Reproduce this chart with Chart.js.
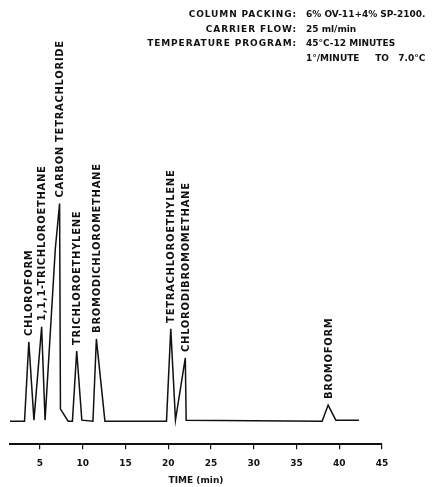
<!DOCTYPE html>
<html><head><meta charset="utf-8">
<script src="https://cdn.jsdelivr.net/npm/chart.js@4/dist/chart.umd.min.js"></script>
<style>
html,body{margin:0;padding:0;background:#fff;}
#wrap{position:relative;width:437px;height:487px;overflow:hidden;}
canvas{position:absolute;left:0;top:0;}
.hdr{position:absolute;font-family:"DejaVu Sans",sans-serif;font-weight:bold;font-size:9px;color:#111;white-space:pre;line-height:14.7px;}
</style></head><body>
<div id="wrap">
<canvas id="c" width="437" height="487"></canvas>
<div class="hdr" style="right:140px;top:7px;text-align:right;letter-spacing:0.9px">COLUMN PACKING:
CARRIER FLOW:
TEMPERATURE PROGRAM:</div>
<div class="hdr" style="left:306px;top:7px;letter-spacing:0px">6% OV-11+4% SP-2100.
25 ml/min
45°C-12 MINUTES
1°/MINUTE     TO   7.0°C</div>
</div>
<script>
// Chromatogram trace (retention time in minutes, detector response in arbitrary units)
const times  = [1.5, 3.2, 3.7, 4.3, 5.2, 5.6, 6.8, 7.3, 7.4, 8.3, 8.8, 9.3, 9.9, 11.2, 11.6, 12.6, 19.8, 20.3, 20.85, 22.0, 22.1, 38.0, 38.7, 39.6, 42.3];
const signal = [0,   0,   79,  1,   94,  1,   172, 217, 12,  0,   0,   70,  1,   0,    82,   0,    0,    92,   1,     63,   1,    0,    16,   1,    1];

// Peak identifications
const peakNames   = ["CHLOROFORM", "1,1,1-TRICHLOROETHANE", "CARBON TETRACHLORIDE", "TRICHLOROETHYLENE",
                     "BROMODICHLOROMETHANE", "TETRACHLOROETHYLENE", "CHLORODIBROMOMETHANE", "BROMOFORM"];
const peakTimes   = [3.7, 5.2, 7.3, 9.3, 11.6, 20.3, 22.0, 38.7];
const peakHeights = [79, 94, 217, 70, 82, 92, 63, 16];

// Axis tick labels
const xTicks = [5, 10, 15, 20, 25, 30, 35, 40, 45];
const xTitle = "TIME (min)";

const peakLabels = {
  id: 'peakLabels',
  afterDatasetsDraw(chart) {
    const {ctx, scales: {x, y}} = chart;
    ctx.save();
    ctx.font = 'bold 10px "DejaVu Sans"';
    ctx.letterSpacing = '0.7px';
    ctx.fillStyle = '#111';
    ctx.textAlign = 'left';
    ctx.textBaseline = 'middle';
    peakNames.forEach((n, i) => {
      const px = x.getPixelForValue(peakTimes[i]);
      const py = y.getPixelForValue(peakHeights[i]);
      ctx.save();
      ctx.translate(px + 1, py - 6);
      ctx.rotate(-Math.PI / 2);
      ctx.fillText(n, 0, 0);
      ctx.restore();
    });
    ctx.restore();
  }
};

new Chart(document.getElementById('c'), {
  type: 'line',
  data: {
    datasets: [{
      data: times.map((t, i) => ({x: t, y: signal[i]})),
      borderColor: '#111',
      borderWidth: 1.5,
      pointRadius: 0,
      tension: 0,
      fill: false,
      clip: false
    }]
  },
  options: {
    responsive: false,
    animation: false,
    devicePixelRatio: 1,
    layout: {padding: {left: 10, right: 55, top: 0, bottom: 2}},
    plugins: {legend: {display: false}, tooltip: {enabled: false}},
    scales: {
      x: {
        type: 'linear', min: 1.5, max: 45,
        afterBuildTicks: s => { s.ticks = xTicks.map(v => ({value: v})); },
        grid: {drawOnChartArea: false, drawTicks: true, tickLength: 5, color: '#111', lineWidth: 1.2},
        border: {display: true, color: '#111', width: 2},
        ticks: {color: '#111', font: {family: 'DejaVu Sans', weight: 'bold', size: 9}, padding: 9, maxRotation: 0, autoSkip: false},
        title: {display: true, text: xTitle, color: '#111', font: {family: 'DejaVu Sans', weight: 'bold', size: 9, lineHeight: 1}, padding: {top: -2, bottom: 0}}
      },
      y: {display: false, min: -23, max: 420}
    }
  },
  plugins: [peakLabels]
});
</script>
</body></html>
